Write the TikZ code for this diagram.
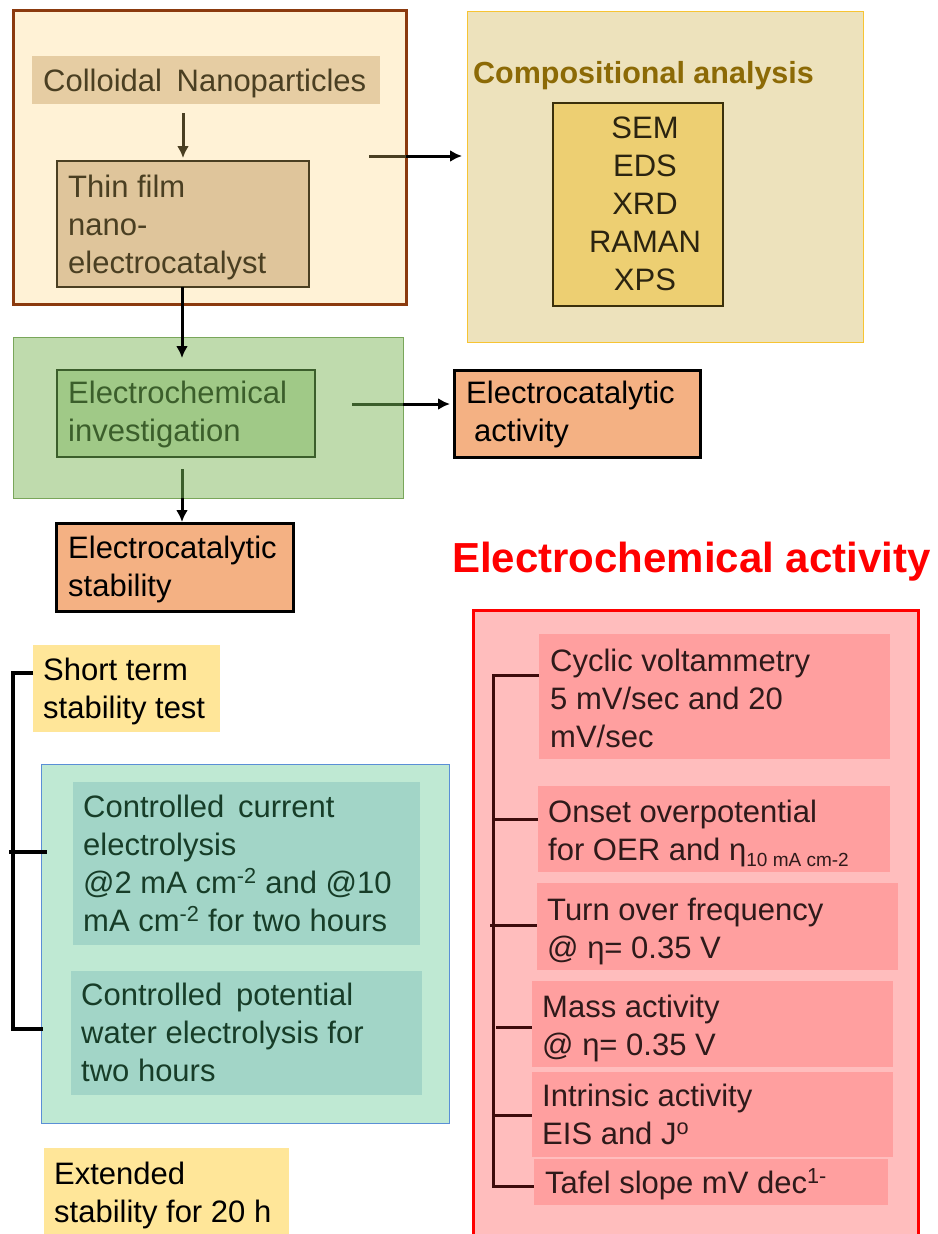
\documentclass[tikz,border=0pt]{standalone}
\usepackage{fontspec}
\setmainfont{Liberation Sans}
\usetikzlibrary{arrows.meta}
\definecolor{creamfill}{HTML}{FFF2D6}
\definecolor{brownline}{HTML}{8B3A0E}
\definecolor{tanc}{HTML}{E6CDA3}
\definecolor{tant}{HTML}{DFC59B}
\definecolor{olivedark}{HTML}{4A3F22}
\definecolor{compfill}{HTML}{EDE2BC}
\definecolor{compline}{HTML}{F7C433}
\definecolor{goldtxt}{HTML}{8C6A06}
\definecolor{semfill}{HTML}{EDCF72}
\definecolor{semline}{HTML}{3B300B}
\definecolor{semtxt}{HTML}{2B2410}
\definecolor{gfill}{HTML}{BFDBAD}
\definecolor{gline}{HTML}{79A65A}
\definecolor{gin}{HTML}{A0C987}
\definecolor{gdark}{HTML}{3B5E2B}
\definecolor{orangefill}{HTML}{F4B183}
\definecolor{redfill}{HTML}{FFBDBD}
\definecolor{pinkfill}{HTML}{FF9F9F}
\definecolor{pinktxt}{HTML}{2E1A1A}
\definecolor{maroon}{HTML}{3D0C0C}
\definecolor{yellowfill}{HTML}{FFE699}
\definecolor{tealfill}{HTML}{BFE9D3}
\definecolor{tealline}{HTML}{5A8FD6}
\definecolor{tealin}{HTML}{A2D5C7}
\definecolor{tealtxt}{HTML}{173D28}
\newcommand\mkbox[6]{\node[#1, anchor=north west, inner sep=0pt, outer sep=0pt, minimum width={(#5)-(#3)}, minimum height={(#6)-(#4)}] (#2) at (#3,#4) {};}
\begin{document}
\begin{tikzpicture}[x=1pt,y=-1pt,
  txt/.style={inner sep=0pt, anchor=base west, align=left, font=\fontsize{31}{38}\selectfont},
  arr/.style={line width=3pt, -{Latex[length=12pt,width=12pt]}},
  lbr/.style={line width=3.5pt, black},
  rbr/.style={line width=3pt, maroon}]
\useasboundingbox (0,0) rectangle (937,1234);
\clip (0,0) rectangle (937,1234);
% top left
\mkbox{fill=creamfill, draw=brownline, line width=3pt}{bigbox}{13}{10}{406}{304}
\mkbox{fill=tanc}{colloid}{32}{56}{380}{104}
\mkbox{fill=tant, draw=olivedark, line width=2pt}{thin}{57}{161}{309}{287}
\node[txt, text=olivedark] (colloidtxt) at (43,91) {Colloidal\hspace{6pt} Nanoparticles};
\node[txt, text=olivedark] (thintxt) at (68,273) {Thin film\\nano-\\electrocatalyst};
% compositional
\mkbox{fill=compfill, draw=compline, line width=1pt}{comp}{467}{11}{863}{342}
\node[inner sep=0pt, anchor=base west, text=goldtxt, font=\bfseries\fontsize{30.5}{36}\selectfont] (comptitle) at (473,83) {Compositional analysis};
\mkbox{fill=semfill, draw=semline, line width=2pt}{sem}{553}{103}{723}{306}
\node[inner sep=0pt, anchor=base, align=center, text=semtxt, font=\fontsize{31}{38}\selectfont] (semtxt) at (645,290) {SEM\\EDS\\XRD\\RAMAN\\XPS};
% green
\mkbox{fill=gfill, draw=gline, line width=1pt}{gout}{13}{337}{403}{498}
\mkbox{fill=gin, draw=gdark, line width=2.5pt}{einv}{57}{370}{315}{457}
\node[txt, text=gdark] (einvtxt) at (68,441) {Electrochemical\\investigation};
\mkbox{fill=orangefill, draw=black, line width=3pt}{act}{454}{370}{700}{457}
\node[txt] (acttxt) at (466,441) {Electrocatalytic\\\hspace{8pt}activity};
\mkbox{fill=orangefill, draw=black, line width=3pt}{stab}{56}{523}{293}{611}
\node[txt] (stabtxt) at (68,596) {Electrocatalytic\\stability};
% arrows
\draw[arr, olivedark] (colloid.south -| thin.north) ++(0,9) -- ([yshift=3pt]thin.north);
\coordinate (g1) at (182,358);
\draw[arr] (thin.south -| g1) -- (g1);
\coordinate (c1) at (369,156);
\draw[arr] (c1) -- ([xshift=-5pt]c1 -| comp.west);
\draw[line width=3pt, olivedark] (c1) -- (c1 -| bigbox.east);
\coordinate (c2) at (352,404);
\draw[arr] (c2) -- ([xshift=-4pt]c2 -| act.west);
\draw[line width=3pt, gdark] (c2) -- (c2 -| gout.east);
\coordinate (c3) at (182,469);
\draw[arr] (c3) -- ([yshift=1pt]c3 |- stab.north);
\draw[line width=3pt, gdark] (c3) -- (c3 |- gout.south);
% red title
\node[inner sep=0pt, anchor=base west, text=red, font=\bfseries\fontsize{42}{48}\selectfont] (redtitle) at (452,572) {Electrochemical activity};
% red box
\mkbox{fill=redfill, draw=red, line width=3pt}{redbox}{473}{610}{918}{1260}
\mkbox{fill=pinkfill}{cv}{539}{634}{890}{759}
\mkbox{fill=pinkfill}{onset}{538}{786}{890}{872}
\mkbox{fill=pinkfill}{tof}{537}{883}{898}{970}
\mkbox{fill=pinkfill}{mass}{532}{981}{893}{1067}
\mkbox{fill=pinkfill}{intr}{532}{1072}{893}{1157}
\mkbox{fill=pinkfill}{tafel}{534}{1159}{888}{1205}
\node[txt, text=pinktxt] (cvtxt) at (550,747) {Cyclic voltammetry\\5 mV/sec and 20\\mV/sec};
\node[txt, text=pinktxt] (onsettxt) at (548,860) {Onset overpotential\\for OER and η\raisebox{-6pt}{\fontsize{19}{20}\selectfont 10 mA cm-2}};
\node[txt, text=pinktxt] (toftxt) at (547,958) {Turn over frequency\\@ η= 0.35 V};
\node[txt, text=pinktxt] (masstxt) at (542,1055) {Mass activity\\@ η= 0.35 V};
\node[txt, text=pinktxt] (intrtxt) at (542,1144) {Intrinsic activity\\EIS and J\textsuperscript{o}};
\node[txt, text=pinktxt] (tafeltxt) at (545,1193) {Tafel slope mV dec\textsuperscript{1-}};
\draw[rbr] (cv.west |- 0,675) -- (493,675) -- (493,1186) -- (tafel.west |- 0,1186);
\draw[rbr] (493,819) -- (onset.west |- 0,819);
\draw[rbr] (490,925) -- (tof.west |- 0,925);
\draw[rbr] (496,1027) -- (mass.west |- 0,1027);
\draw[rbr] (493,1115) -- (intr.west |- 0,1115);
% left stability
\mkbox{fill=yellowfill}{short}{33}{645}{220}{732}
\node[txt] (shorttxt) at (43,718) {Short term\\stability test};
\mkbox{fill=tealfill, draw=tealline, line width=1pt}{tout}{41}{764}{449}{1123}
\mkbox{fill=tealin}{cce}{73}{782}{420}{945}
\mkbox{fill=tealin}{cpe}{71}{971}{422}{1095}
\node[txt, text=tealtxt] (ccetxt) at (83,931) {Controlled\hspace{5pt} current\\electrolysis\\@2 mA cm\textsuperscript{-2} and @10\\mA cm\textsuperscript{-2} for two hours};
\node[txt, text=tealtxt] (cpetxt) at (81,1081) {Controlled\hspace{5pt} potential\\water electrolysis for\\two hours};
\mkbox{fill=yellowfill}{ext}{44}{1148}{289}{1260}
\node[txt] (exttxt) at (54,1222) {Extended\\stability for 20 h};
\draw[lbr] (short.west |- 0,673) -- (13,673) -- (13,1029) -- (43,1029);
\draw[lbr] (9,852) -- (47,852);
\end{tikzpicture}
\end{document}
